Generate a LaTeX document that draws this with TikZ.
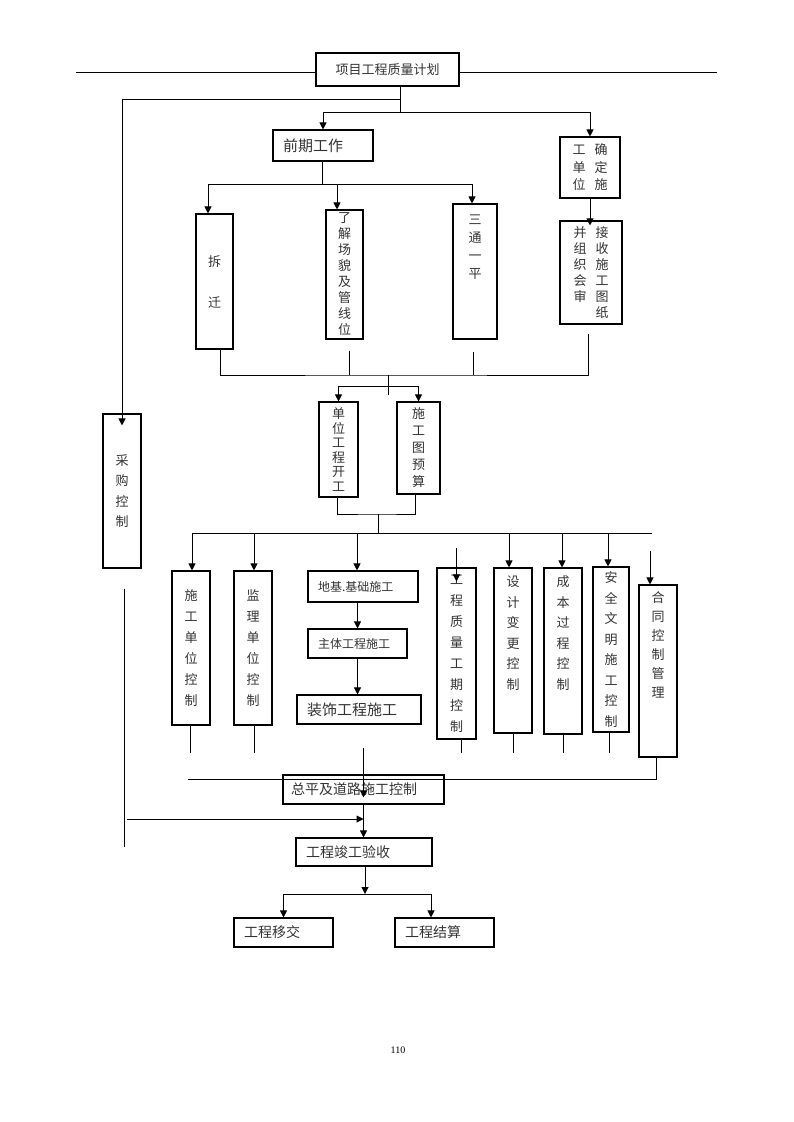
\documentclass[tikz,border=0pt]{standalone}
\usepackage{fontspec}
\newfontfamily\cjk{Noto Sans CJK SC}
\newfontfamily\pagefont{Liberation Serif}
\usetikzlibrary{arrows.meta, positioning, calc}
\tikzset{
  every picture/.style={font=\cjk, line width=1pt},
  box/.style={draw, line width=1.1pt, inner xsep=10pt, inner ysep=0pt, align=left, text=black!80},
  vbox/.style={draw, line width=1.1pt, inner sep=0pt, align=center, text=black!80},
  vlab/.style={inner sep=0pt, align=center, anchor=north, text=black!80},
  fs/.style 2 args={font=\cjk\fontsize{#1pt}{#2pt}\selectfont},
  arrow/.style={-{Triangle[length=7pt, width=7pt]}},
}

\begin{document}
\begin{tikzpicture}[x=1pt, y=-1pt]
  \useasboundingbox (0,0) rectangle (793,1122);
  % plan and top rule
  \node[box, align=center, text width=123pt, minimum height=33pt, fs={13}{15}] (plan) at (387.5,69.5) {项目工程质量计划};
  \coordinate (ruleL) at (76,72);
  \coordinate (ruleR) at (717,72);
  \draw (ruleL) -- (plan.west |- ruleL);
  \draw (plan.east |- ruleR) -- (ruleR);
  % preparation
  \node[box, text width=80pt, minimum height=31pt, fs={15}{17}] (qianqi) at (323,145.5) {前期工作};
  \node[vbox, minimum width=60pt, minimum height=61pt, fs={13}{17.5}] (queding) at (590,167.5) {工\hspace{9pt}确\\单\hspace{9pt}定\\位\hspace{9pt}施};
  \node[vbox, minimum width=62pt, minimum height=103pt, fs={13}{16}] (jieshou) at (591,272.5) {并\hspace{9pt}接\\组\hspace{9pt}收\\织\hspace{9pt}施\\会\hspace{9pt}工\\审\hspace{9pt}图\\\phantom{审}\hspace{9pt}纸};
  \node[vbox, minimum width=37pt, minimum height=135pt, fs={13}{41}] (chaiqian) at (214.5,281.5) {拆\\迁};
  \node[vbox, minimum width=37pt, minimum height=129pt, fs={13}{16}] (liaojie) at (344.5,274.5) {了\\解\\场\\貌\\及\\管\\线\\位};
  \node[vbox, minimum width=44pt, minimum height=135pt, label={[vlab, fs={13}{18}, yshift=-11pt]north:{三\\通\\一\\平}}] (santong) at (475,271.5) {};
  \node[vbox, minimum width=38pt, minimum height=154pt, fs={13}{20.5}] (caigou) at (122,491) {采\\购\\控\\制};
  \node[vbox, minimum width=39pt, minimum height=95pt, fs={13}{14.5}] (danwei) at (338.5,449.5) {单\\位\\工\\程\\开\\工};
  \node[vbox, minimum width=43pt, minimum height=92pt, fs={13}{17}] (yusuan) at (418.5,448) {施\\工\\图\\预\\算};
  % controls
  \node[vbox, minimum width=38pt, minimum height=154pt, fs={13}{21}] (sgdw) at (191,648) {施\\工\\单\\位\\控\\制};
  \node[vbox, minimum width=38pt, minimum height=154pt, fs={13}{21}] (jldw) at (253,648) {监\\理\\单\\位\\控\\制};
  \node[box, text width=90pt, minimum height=31pt, fs={12}{14}] (diji) at (363,586.5) {地基.基础施工};
  \node[box, text width=79pt, minimum height=29pt, fs={12}{14}] (zhuti) at (357.5,643.5) {主体工程施工};
  \node[box, text width=104pt, minimum height=29pt, fs={15}{17}] (zhuangshi) at (359,709.5) {装饰工程施工};
  \node[vbox, minimum width=39pt, minimum height=171pt, fs={13}{21}] (zlgq) at (456.5,653.5) {工\\程\\质\\量\\工\\期\\控\\制};
  \node[vbox, minimum width=38pt, minimum height=165pt, label={[vlab, fs={13}{20.5}, yshift=-8pt]north:{设\\计\\变\\更\\控\\制}}] (sjbg) at (513,650.5) {};
  \node[vbox, minimum width=38pt, minimum height=166pt, label={[vlab, fs={13}{20.5}, yshift=-8pt]north:{成\\本\\过\\程\\控\\制}}] (cbgc) at (563,651) {};
  \node[vbox, minimum width=36pt, minimum height=165pt, fs={13}{20.5}] (aqwm) at (611,649.5) {安\\全\\文\\明\\施\\工\\控\\制};
  \node[vbox, minimum width=38pt, minimum height=172pt, label={[vlab, fs={13}{19}, yshift=-7pt]north:{合\\同\\控\\制\\管\\理}}] (htkz) at (658,671) {};
  % completion
  \node[box, text width=145pt, inner xsep=8pt, minimum height=29pt, fs={14}{16}] (zongping) at (363.5,789.5) {总平及道路施工控制};
  \node[box, text width=116pt, minimum height=28pt, fs={14}{16}] (jungong) at (364,852) {工程竣工验收};
  \node[box, text width=79pt, minimum height=29pt, fs={14}{16}] (yijiao) at (283.5,932.5) {工程移交};
  \node[box, text width=79pt, minimum height=29pt, fs={14}{16}] (jiesuan) at (444.5,932.5) {工程结算};
  \node[font=\pagefont\fontsize{10}{12}\selectfont] (pageno) at (398,1050) {110};

  % from plan
  \coordinate (j1) at (400,99);
  \coordinate (j2) at (400,112);
  \draw (plan.south -| j1) -- (j2);
  \draw[arrow, shorten >=-12pt] (j1) -| (caigou.north);
  \draw[arrow] (j2) -| (qianqi.north);
  \draw[arrow] (j2) -| (queding.north);
  \draw[arrow, shorten >=-5pt] (queding.south) -- (queding.south |- jieshou.north);
  % preparation branches
  \coordinate (j3) at (322,184);
  \draw (qianqi.south -| j3) -- (j3);
  \draw ([xshift=-6.5pt]chaiqian.north |- j3) -- ([xshift=-3pt]santong.north |- j3);
  \foreach \n/\dx in {chaiqian/-6.5, liaojie/-7.5, santong/-3}
    \draw[arrow] ([xshift=\dx pt]\n.north |- j3) -- ([xshift=\dx pt]\n.north);
  \coordinate (j4) at (388,375);
  \draw[shorten >=9pt] ([xshift=5.5pt]chaiqian.south) |- (j4) -| ([xshift=-3pt]jieshou.south);
  \draw[shorten <=11pt] ([xshift=4.5pt]liaojie.south) -- ([xshift=4.5pt]liaojie.south |- j4);
  \draw[shorten <=12pt] ([xshift=-2pt]santong.south) -- ([xshift=-2pt]santong.south |- j4);
  \coordinate (j5) at (388,386);
  \draw (j4) -- ([yshift=-9pt]j5);
  \draw[arrow] (j5) -| (danwei.north);
  \draw[arrow] (j5) -| (yusuan.north);
  \coordinate (j6) at (378,514);
  \coordinate (j7) at (378,533);
  \draw ([xshift=-1.5pt]danwei.south) |- (j6) -| ([xshift=-3.5pt]yusuan.south);
  \draw (j6) -- (j7);
  % control branches
  \coordinate (j7r) at (652,533);
  \draw ([xshift=1pt]sgdw.north |- j7) -- (j7r);
  \foreach \n/\dx in {sgdw/1, jldw/1, diji/-6, sjbg/-4, cbgc/-1, aqwm/-3}
    \draw[arrow] ([xshift=\dx pt]\n.north |- j7) -- ([xshift=\dx pt]\n.north);
  \draw[arrow, shorten >=-14pt] ([yshift=19pt]zlgq.north) -- (zlgq.north);
  \draw[arrow] ([xshift=-8pt, yshift=33pt]htkz.north) -- ([xshift=-8pt]htkz.north);
  \draw[arrow] (zhuti.north |- diji.south) -- (zhuti.north);
  \draw[arrow] (zhuti.south) -- (zhuti.south |- zhuangshi.north);
  \coordinate (j8) at (400,753);
  \foreach \n/\dx in {sgdw/-1, jldw/1, zlgq/4.5, sjbg/0, cbgc/0, aqwm/-2}
    \draw ([xshift=\dx pt]\n.south) -- ([xshift=\dx pt]\n.south |- j8);
  \coordinate (j9) at (188,779);
  \draw ([xshift=-2pt]htkz.south) |- (j9);
  % completion
  \draw[arrow, shorten <=23pt, shorten >=-23pt] (zongping.north |- zhuangshi.south) -- (zongping.north);
  \draw[arrow] (zongping.south) -- (zongping.south |- jungong.north);
  \coordinate (lv) at (124,847);
  \draw[shorten <=20pt] (caigou.south -| lv) -- (lv);
  \coordinate (lh) at (127,819);
  \draw[arrow] (lh) -- (lh -| zongping.south);
  \coordinate (j10) at (365,894);
  \draw[arrow] (jungong.south -| j10) -- (j10);
  \draw[arrow] (j10) -| (yijiao.north);
  \draw[arrow] (j10) -| ([xshift=-13.5pt]jiesuan.north);
\end{tikzpicture}
\end{document}
